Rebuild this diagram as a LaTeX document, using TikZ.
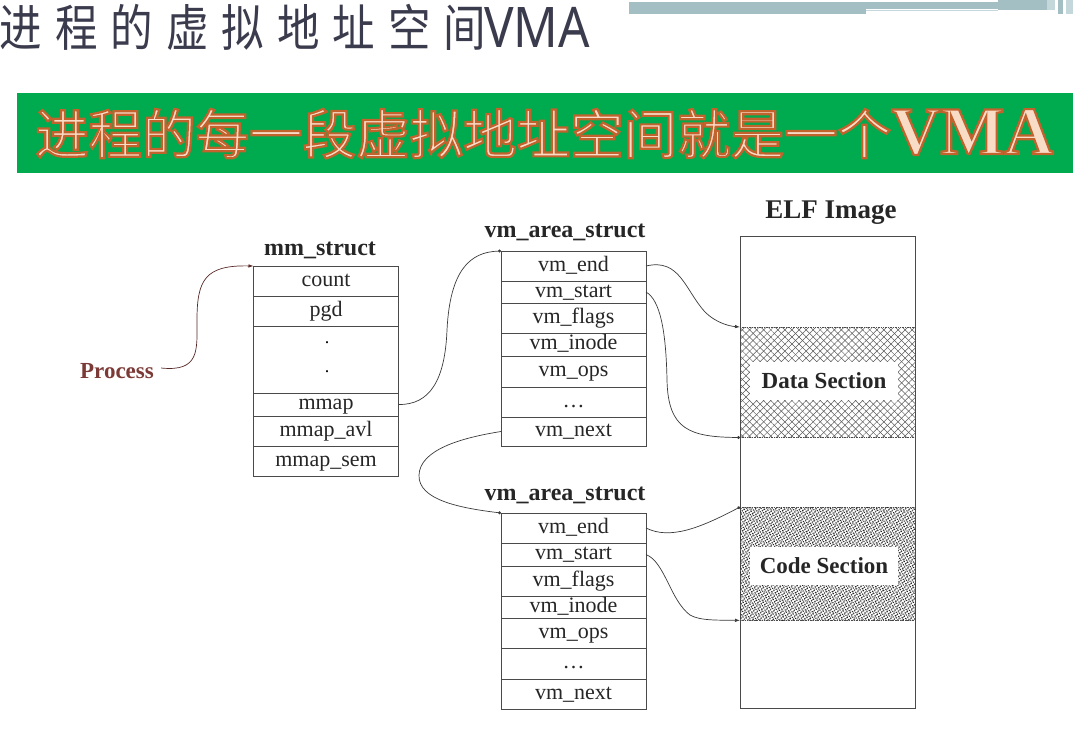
\documentclass[tikz,border=0pt]{standalone}
\usepackage{fontspec}
\setmainfont{Liberation Serif}
\newfontfamily\cjk{Noto Sans CJK SC}
\newfontfamily\latinsans{Noto Sans}
\usetikzlibrary{patterns.meta,arrows.meta}

\definecolor{titleink}{HTML}{3B3B4E}
\definecolor{bannergreen}{HTML}{00AA4E}
\definecolor{peach}{HTML}{F9DCC6}
\definecolor{barblue}{HTML}{A3BFC4}
\definecolor{barlight}{HTML}{C4D7DA}
\definecolor{boxline}{HTML}{4A4A4A}
\definecolor{linkline}{HTML}{3A3A3A}
\definecolor{procred}{HTML}{7B3A36}

% glyphs filled in the current colour and stroked in rust
\newcommand{\rimmed}[1]{\special{pdf:literal 2 Tr 2.2 w 0.76 0.39 0.18 RG}#1\special{pdf:literal 0 Tr}}

\begin{document}
\begin{tikzpicture}[x=1pt,y=-1pt,
  titlechar/.style={inner sep=0pt, anchor=base, text=titleink,
    font=\cjk\fontsize{50}{50}\selectfont},
  row/.style={draw=boxline, line width=0.7pt, minimum width=145pt, inner sep=0pt,
    outer sep=0pt, anchor=north, text height=15pt, text depth=5pt,
    font=\fontsize{22}{22}\selectfont, text=black!85},
  structtitle/.style={inner sep=0pt, font=\bfseries\fontsize{24}{24}\selectfont, text=black!85},
  link/.style={draw=linkline, line width=0.7pt},
  arr/.style={-{Latex[length=5pt,width=3.5pt]}},
  dotend/.style={-{Circle[length=3pt]}},
  seclabel/.style={fill=white, minimum width=148pt, minimum height=38pt, inner sep=0pt,
    font=\bfseries\fontsize{23}{23}\selectfont, text=black!85}
]
\useasboundingbox (0,0) rectangle (1073,740);

% header bar in the top right corner
\fill[barblue] (629,2) rectangle (866,14);
\fill[barblue] (866,2) rectangle (998,9);
\fill[barlight] (866,9.5) rectangle (998,11);
\fill[barblue] (998,0) rectangle (1047,9.5);
\fill[barlight] (1047,0) rectangle (1055,9.5);
\fill[barblue] (1058,0) rectangle (1063,14);
\fill[barlight] (1066,0) rectangle (1073,14);

% slide heading
\foreach \c [count=\i from 0] in {进,程,的,虚,拟,地,址,空,间}
  \node[titlechar] (head\i) at (21+55.5*\i,46) {\scalebox{0.85}[1]{\c}};
\node[inner sep=0pt, anchor=base west, text=titleink,
  font=\latinsans\fontsize{56}{56}\selectfont] (headvma) at (484,47)
  {\scalebox{0.88}[1]{VMA}};

% green banner with outlined lettering
\fill[bannergreen] (17,93) rectangle (1073,173);
\node[inner sep=0pt, anchor=base west, text=peach] (banner) at (35,154)
  {\rimmed{\cjk\fontsize{53.5}{53.5}\selectfont 进程的每一段虚拟地址空间就是一个{\rmfamily\bfseries\fontsize{68}{68}\selectfont VMA}}};

% mm_struct
\node[structtitle] (mmtitle) at (320,250) {mm\_struct};
\node[row, minimum height=30pt] (count) at (326,266) {count};
\node[row, minimum height=30pt] (pgd) at (326,296) {pgd};
\node[row, minimum height=67pt] (mmgap) at (326,326) {};
\node[inner sep=0pt, font=\fontsize{18}{18}\selectfont] (mmdot1) at (327,343) {.};
\node[inner sep=0pt, font=\fontsize{18}{18}\selectfont] (mmdot2) at (327,372) {.};
\node[row, minimum height=23pt] (mmap) at (326,393) {mmap};
\node[row, minimum height=30pt] (mmapavl) at (326,416) {mmap\_avl};
\node[row, minimum height=30pt] (mmapsem) at (326,446) {mmap\_sem};

% Process
\node[inner sep=0pt, text=procred, font=\bfseries\fontsize{23}{23}\selectfont] (proc) at (117,371) {Process};

% first vm_area_struct
\node[structtitle] (vmatitleA) at (565,232) {vm\_area\_struct};
\node[row, minimum height=30pt] (endA) at (573.5,251) {vm\_end};
\node[row, minimum height=22pt] (startA) at (573.5,281) {vm\_start};
\node[row, minimum height=30pt] (flagsA) at (573.5,303) {vm\_flags};
\node[row, minimum height=23pt] (inodeA) at (573.5,333) {vm\_inode};
\node[row, minimum height=31pt] (opsA) at (573.5,356) {vm\_ops};
\node[row, minimum height=30pt] (moreA) at (573.5,387) {…};
\node[row, minimum height=29pt] (nextA) at (573.5,417) {vm\_next};

% second vm_area_struct
\node[structtitle] (vmatitleB) at (565,495) {vm\_area\_struct};
\node[row, minimum height=30pt] (endB) at (573.5,513) {vm\_end};
\node[row, minimum height=23pt] (startB) at (573.5,543) {vm\_start};
\node[row, minimum height=30pt] (flagsB) at (573.5,566) {vm\_flags};
\node[row, minimum height=22pt] (inodeB) at (573.5,596) {vm\_inode};
\node[row, minimum height=30pt] (opsB) at (573.5,618) {vm\_ops};
\node[row, minimum height=31pt] (moreB) at (573.5,648) {…};
\node[row, minimum height=30pt] (nextB) at (573.5,679) {vm\_next};

% ELF image with its two sections
\node[structtitle, font=\bfseries\fontsize{27}{27}\selectfont] (elftitle) at (831,213) {ELF Image};
\node[draw=boxline, line width=0.7pt, minimum width=175pt, minimum height=472pt,
  inner sep=0pt, anchor=north west] (elf) at (740,236) {};
\node[minimum width=175pt, minimum height=110pt, inner sep=0pt, anchor=north west,
  pattern={Lines[angle=45,distance=5pt,line width=0.5pt]}, pattern color=black!65] (data) at (740,327) {};
\fill[pattern={Lines[angle=-45,distance=5pt,line width=0.5pt]}, pattern color=black!65]
  (data.north west) rectangle (data.south east);
\draw[boxline, line width=0.7pt, densely dotted] (data.north west) -- (data.north east)
  (data.south west) -- (data.south east);
\node[minimum width=175pt, minimum height=113pt, inner sep=0pt, anchor=north west,
  pattern={Dots[distance=2.5pt,radius=0.8pt,angle=30]}, pattern color=black!85] (code) at (740,507) {};
\fill[pattern={Lines[angle=60,distance=3.5pt,line width=0.45pt]}, pattern color=black!60]
  (code.north west) rectangle (code.south east);
\draw[boxline, line width=0.7pt, densely dotted] (code.north west) -- (code.north east)
  (code.south west) -- (code.south east);
\node[seclabel] (datalabel) at (824,381) {Data Section};
\node[seclabel] (codelabel) at (824,566) {Code Section};

% connectors
\draw[link, arr, draw=procred!70!black] ([xshift=7pt,yshift=3pt]proc.east)
  .. controls (200,372) and (197,350) .. (197,320)
  .. controls (197,280) and (205,265) .. (count.north west);
\draw[link, dotend] (mmap.east)
  .. controls (430,405) and (445,380) .. (447,330)
  .. controls (450,270) and (470,252) .. (endA.north west);
\draw[link, arr] (endA.east)
  .. controls (680,258) and (685,290) .. (705,312)
  .. controls (715,322) and (728,326) .. (data.north west);
\draw[link, dotend] (startA.east)
  .. controls (660,300) and (666,330) .. (667,380)
  .. controls (668,430) and (690,437) .. (data.south west);
\draw[link, dotend] (nextA.west)
  .. controls (460,438) and (420,450) .. (419,475)
  .. controls (418,500) and (460,508) .. (endB.north west);
\draw[link, dotend] (endB.east)
  .. controls (670,540) and (700,528) .. (code.north west);
\draw[link, arr] (startB.east)
  .. controls (665,562) and (670,600) .. (690,615)
  .. controls (700,621) and (720,620) .. (code.south west);
\end{tikzpicture}
\end{document}
